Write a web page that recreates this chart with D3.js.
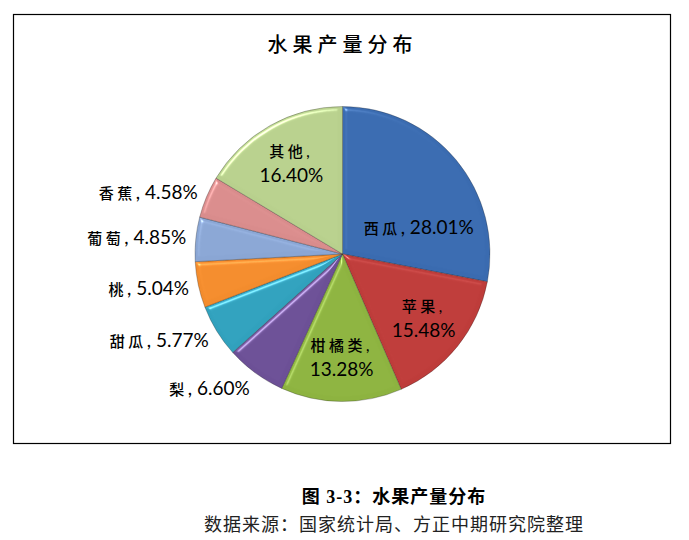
<!DOCTYPE html>
<html>
<head>
<meta charset="utf-8">
<script src="https://cdn.jsdelivr.net/npm/d3@7"></script>
<style>
  body { margin: 0; background: #fff; }
  svg { display: block; }
</style>
</head>
<body>
<div id="chart"></div>
<script>
// fruit output share, clockwise from 12 o'clock
var fruits = ['西瓜', '苹果', '柑橘类', '梨', '甜瓜', '桃', '葡萄', '香蕉', '其他'];
var shares = [28.01, 15.48, 13.28, 6.60, 5.77, 5.04, 4.85, 4.58, 16.40];
var colors = ['#3a6bb0', '#be3c3a', '#8db340', '#6c5096', '#31a1bd', '#f38c2d', '#8aa6d4', '#d98c8c', '#b8d08d'];
// which labels sit inside the slice, and which break after the comma
var inside = [true, true, true, false, false, false, false, false, true];
var twoLine = [false, true, true, false, false, false, false, false, true];

var W = 689, H = 540;
var cx = 342.5, cy = 254, R = 147.5;

var svg = d3.select('#chart').append('svg')
  .attr('width', W).attr('height', H);

var defs = svg.append('defs');
var f = defs.append('filter').attr('id', 'bevel')
  .attr('color-interpolation-filters', 'sRGB')
  .attr('x', '-10%').attr('y', '-10%').attr('width', '120%').attr('height', '120%');
f.append('feGaussianBlur').attr('in', 'SourceAlpha').attr('stdDeviation', 2.2).attr('result', 'blur');
var spec = f.append('feSpecularLighting').attr('in', 'blur')
  .attr('surfaceScale', 3).attr('specularConstant', 0.8)
  .attr('specularExponent', 40).attr('lighting-color', '#ffffff').attr('result', 'spec');
spec.append('feDistantLight').attr('azimuth', 235).attr('elevation', 40);
f.append('feComposite').attr('in', 'spec').attr('in2', 'SourceAlpha').attr('operator', 'in').attr('result', 'specIn');
f.append('feComposite').attr('in', 'SourceGraphic').attr('in2', 'specIn')
  .attr('operator', 'arithmetic').attr('k1', 0).attr('k2', 1).attr('k3', 0.5).attr('k4', 0);

// outer frame
svg.append('rect')
  .attr('x', 13.5).attr('y', 14.5).attr('width', 657).attr('height', 429)
  .attr('fill', 'none').attr('stroke', '#000').attr('stroke-width', 1.2);

svg.append('text')
  .attr('x', cx).attr('y', 52)
  .attr('text-anchor', 'middle')
  .style('font-family', "'Noto Sans CJK SC'")
  .style('font-size', '20px').style('font-weight', 500)
  .style('letter-spacing', '5px')
  .text('水果产量分布');

var data = fruits.map(function (d, i) { return { name: d, value: shares[i], i: i }; });

var pie = d3.pie().value(function (d) { return d.value; }).sort(null);
var arcs = pie(data);
var arc = d3.arc().innerRadius(0).outerRadius(R);

var g = svg.append('g').attr('transform', 'translate(' + cx + ',' + cy + ')');

g.selectAll('path.slice')
  .data(arcs)
  .enter().append('path')
  .attr('class', 'slice')
  .attr('d', arc)
  .attr('fill', function (d) { return colors[d.data.i]; })
  .attr('stroke', 'rgba(30,30,30,0.35)')
  .attr('stroke-width', 0.8)
  .attr('filter', 'url(#bevel)');

var latin = "Lato, 'Noto Sans CJK SC', sans-serif";
var fs = 19;

// inside labels: start on the mid ray, slide toward horizontal until the box fits
function fitInside(d, w, h) {
  var a = (d.startAngle + d.endAngle) / 2, r = 100;
  for (var k = 0; k < 40; k++) {
    var p = d3.pointRadial(a, r);
    var xs = [p[0] - w / 2, p[0] + w / 2], ys = [p[1] - h / 2, p[1] + h / 2];
    var ok = true;
    xs.forEach(function (x) { ys.forEach(function (y) {
      if (Math.sqrt(x * x + y * y) > R * 0.92) ok = false;
    }); });
    if (ok) return p;
    a += (Math.PI / 2 - a) * 0.1;
    r -= 2;
  }
  return d3.pointRadial(a, r);
}

function cjk(sel, s) {
  sel.append('tspan').style('font-size', '15px').style('font-weight', 500)
    .style('letter-spacing', '3.5px').text(s);
}

var labels = g.append('g');

arcs.forEach(function (d) {
  var i = d.data.i;
  var pct = d.data.value.toFixed(2) + '%';
  var t = labels.append('text')
    .style('font-family', latin)
    .style('font-size', fs + 'px')
    .attr('fill', '#000');
  if (inside[i] && twoLine[i]) {
    var p = d3.pointRadial((d.startAngle + d.endAngle) / 2, 104);
    t.attr('text-anchor', 'middle');
    t.append('tspan').attr('x', p[0]).attr('y', p[1] - 7)
      .style('font-size', '15px').style('font-weight', 500).style('letter-spacing', '3.5px')
      .text(d.data.name + ',');
    t.append('tspan').attr('x', p[0]).attr('y', p[1] + 18).text(pct);
  } else if (inside[i]) {
    t.attr('text-anchor', 'middle');
    cjk(t, d.data.name);
    t.append('tspan').text(', ' + pct);
    var bb = t.node().getBBox();
    var q = fitInside(d, bb.width, bb.height);
    t.attr('x', q[0]).attr('y', q[1] - 3);
  } else {
    var a = (d.startAngle + d.endAngle) / 2;
    var o = d3.pointRadial(a, 157);
    var drop = Math.max(0, -Math.cos(a)) * 10;
    t.attr('text-anchor', 'end').attr('x', o[0]).attr('y', o[1] + drop + 6);
    cjk(t, d.data.name);
    t.append('tspan').text(', ' + pct);
  }
});

// caption under the frame
svg.append('text')
  .attr('x', 394).attr('y', 503)
  .attr('text-anchor', 'middle')
  .style('font-family', "'Liberation Serif', 'Noto Sans CJK SC'")
  .style('font-size', '18px').style('font-weight', 700)
  .style('letter-spacing', '1px')
  .text('图 3-3：水果产量分布');

svg.append('text')
  .attr('x', 394).attr('y', 531)
  .attr('text-anchor', 'middle')
  .style('font-family', "'Noto Sans CJK SC'")
  .style('font-size', '18px').style('letter-spacing', '1px')
  .attr('fill', '#222')
  .text('数据来源：国家统计局、方正中期研究院整理');
</script>
</body>
</html>
